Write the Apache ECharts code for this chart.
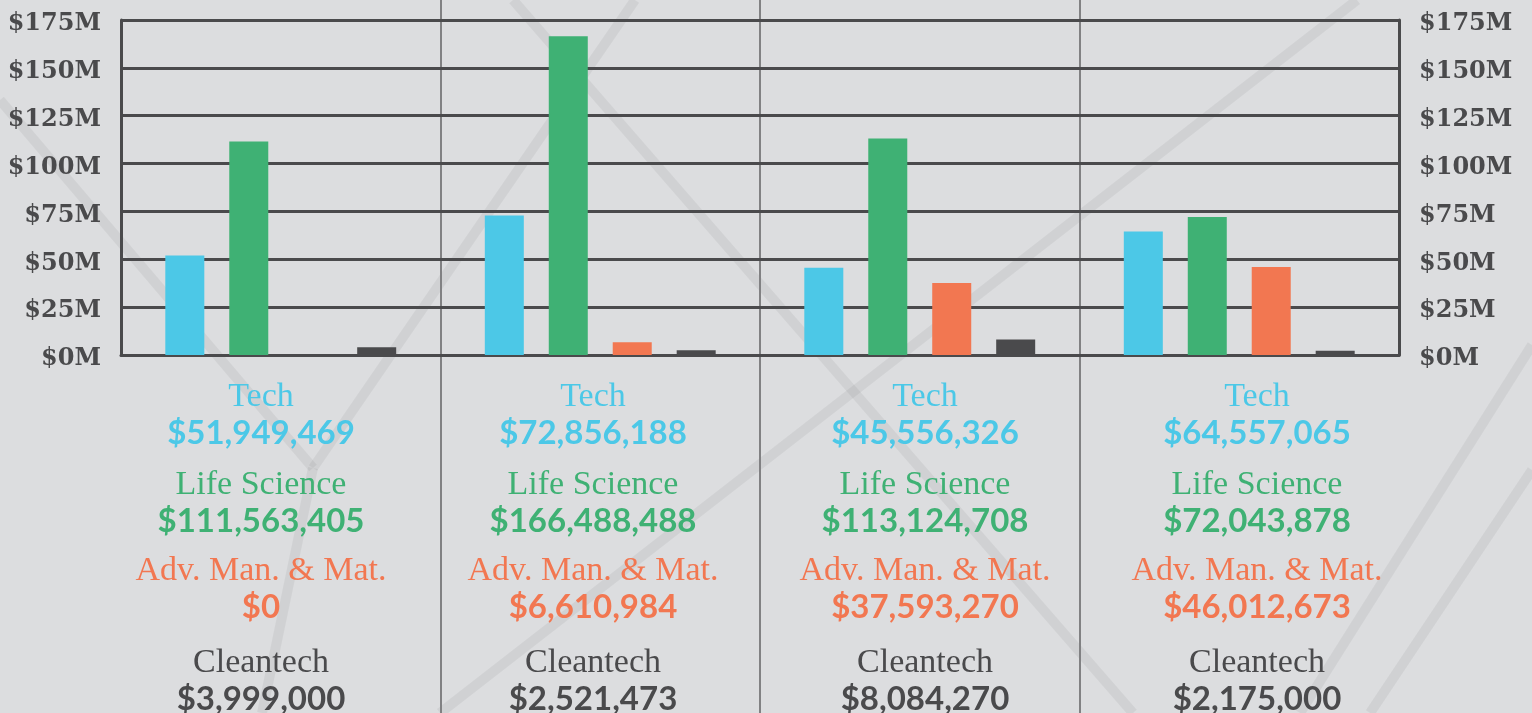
<!DOCTYPE html>
<html>
<head>
<meta charset="utf-8">
<script src="https://cdn.jsdelivr.net/npm/echarts@6/dist/echarts.min.js"></script>
<style>
  html, body { margin: 0; padding: 0; background: #dcdddf; }
  #chart { width: 1532px; height: 713px; }
</style>
</head>
<body>
<div id="chart"></div>
<script>
// groups (no visible label in the original)
const groups = ['Group 1', 'Group 2', 'Group 3', 'Group 4'];

const seriesNames = ['Tech', 'Life Science', 'Adv. Man. & Mat.', 'Cleantech'];
const techValues = [51949469, 72856188, 45556326, 64557065];
const lifeValues = [111563405, 166488488, 113124708, 72043878];
const advValues = [0, 6610984, 37593270, 46012673];
const cleanValues = [3999000, 2521473, 8084270, 2175000];

const yMax = 175000000;
const yStep = 25000000;

const colors = ['#4cc8e7', '#3fb174', '#f27751', '#4a4a4c'];
const inkColor = '#4a4a4c';

// layout of the plot box
const gridLeft = 121, gridRight = 133, gridTop = 20, gridBottom = 355;
const W = 1532, H = 713;

const chart = echarts.init(document.getElementById('chart'));

function money(v) {
  return '$' + v.toLocaleString('en-US');
}

function blockLabel(value, idx) {
  return [
    '{tech|' + seriesNames[0] + '}',
    '{techV|' + money(techValues[idx]) + '}',
    '{gapA| }',
    '{life|' + seriesNames[1] + '}',
    '{lifeV|' + money(lifeValues[idx]) + '}',
    '{gapB| }',
    '{adv|' + seriesNames[2] + '}',
    '{advV|' + money(advValues[idx]) + '}',
    '{gapC| }',
    '{clean|' + seriesNames[3] + '}',
    '{cleanV|' + money(cleanValues[idx]) + '}'
  ].join('\n');
}

const nameFont = { fontFamily: 'Liberation Serif', fontSize: 34, lineHeight: 36 };
const valueFont = { fontFamily: 'Lato', fontWeight: 'bold', fontSize: 33, lineHeight: 36 };

function rich() {
  return {
    tech: Object.assign({ color: colors[0] }, nameFont),
    techV: Object.assign({ color: colors[0] }, valueFont),
    life: Object.assign({ color: colors[1] }, nameFont),
    lifeV: Object.assign({ color: colors[1] }, valueFont),
    adv: Object.assign({ color: colors[2] }, nameFont),
    advV: Object.assign({ color: colors[2] }, valueFont),
    clean: Object.assign({ color: colors[3] }, nameFont),
    cleanV: Object.assign({ color: colors[3] }, valueFont),
    gapA: { fontSize: 2, lineHeight: 16 },
    gapB: { fontSize: 2, lineHeight: 14 },
    gapC: { fontSize: 2, lineHeight: 20 }
  };
}

// decorative background strokes
const bgStrokes = [
  [0, 100, 313, 468],
  [313, 468, 635, 0],
  [313, 468, 262, 713],
  [513, 0, 1133, 713],
  [440, 713, 1357, 0],
  [1532, 345, 1300, 713],
  [1532, 470, 1370, 713]
];

const graphics = bgStrokes.map(s => ({
  type: 'line',
  z: -10,
  silent: true,
  shape: { x1: s[0], y1: s[1], x2: s[2], y2: s[3] },
  style: { stroke: 'rgba(0,0,0,0.05)', lineWidth: 10 }
}));

// separators between groups, full height
const plotW = W - gridLeft - gridRight;
for (let i = 1; i < groups.length; i++) {
  const x = Math.round(gridLeft + plotW * i / groups.length);
  graphics.push({
    type: 'line',
    z: -5,
    silent: true,
    shape: { x1: x, y1: 0, x2: x, y2: H },
    style: { stroke: '#818183', lineWidth: 2 }
  });
}

const yLabel = {
  fontFamily: 'DejaVu Serif',
  fontWeight: 'bold',
  fontSize: 24,
  color: inkColor,
  lineHeight: 30,
  verticalAlign: 'top',
  padding: [-11, 0, 0, 0],
  formatter: v => '$' + (v / 1000000) + 'M'
};

const option = {
  backgroundColor: '#dcdddf',
  animation: false,
  graphic: graphics,
  grid: [
    { left: gridLeft, right: gridRight, top: gridTop, bottom: H - gridBottom, outerBoundsMode: 'none' },
    // text blocks below the bars sit on a slightly wider spacing
    { left: 95, right: 109, top: gridTop, bottom: H - gridBottom, outerBoundsMode: 'none' }
  ],
  xAxis: [
    {
      type: 'category',
      gridIndex: 0,
      data: groups,
      axisTick: { show: false },
      axisLine: { lineStyle: { color: inkColor, width: 3 } },
      axisLabel: { show: false }
    },
    {
      type: 'category',
      gridIndex: 1,
      data: groups,
      axisTick: { show: false },
      axisLine: { show: false },
      splitLine: { show: false },
      axisLabel: {
        interval: 0,
        margin: 24,
        align: 'center',
        formatter: blockLabel,
        rich: rich()
      }
    }
  ],
  yAxis: [
    {
      type: 'value',
      gridIndex: 0,
      position: 'left',
      min: 0, max: yMax, interval: yStep,
      axisLine: { show: true, lineStyle: { color: inkColor, width: 3 } },
      axisTick: { show: false },
      splitLine: { lineStyle: { color: inkColor, width: 3 } },
      axisLabel: Object.assign({ margin: 20 }, yLabel)
    },
    {
      type: 'value',
      gridIndex: 0,
      position: 'right',
      min: 0, max: yMax, interval: yStep,
      axisLine: { show: true, lineStyle: { color: inkColor, width: 3 } },
      axisTick: { show: false },
      splitLine: { show: false },
      axisLabel: Object.assign({ margin: 20, align: 'left' }, yLabel)
    },
    {
      type: 'value',
      gridIndex: 1,
      show: false
    }
  ],
  series: [techValues, lifeValues, advValues, cleanValues].map((vals, i) => ({
    name: seriesNames[i],
    type: 'bar',
    xAxisIndex: 0,
    yAxisIndex: 0,
    data: vals,
    barWidth: 39,
    barGap: '64%',
    itemStyle: { color: colors[i] },
    z: 3
  }))
};

chart.setOption(option);
</script>
</body>
</html>
